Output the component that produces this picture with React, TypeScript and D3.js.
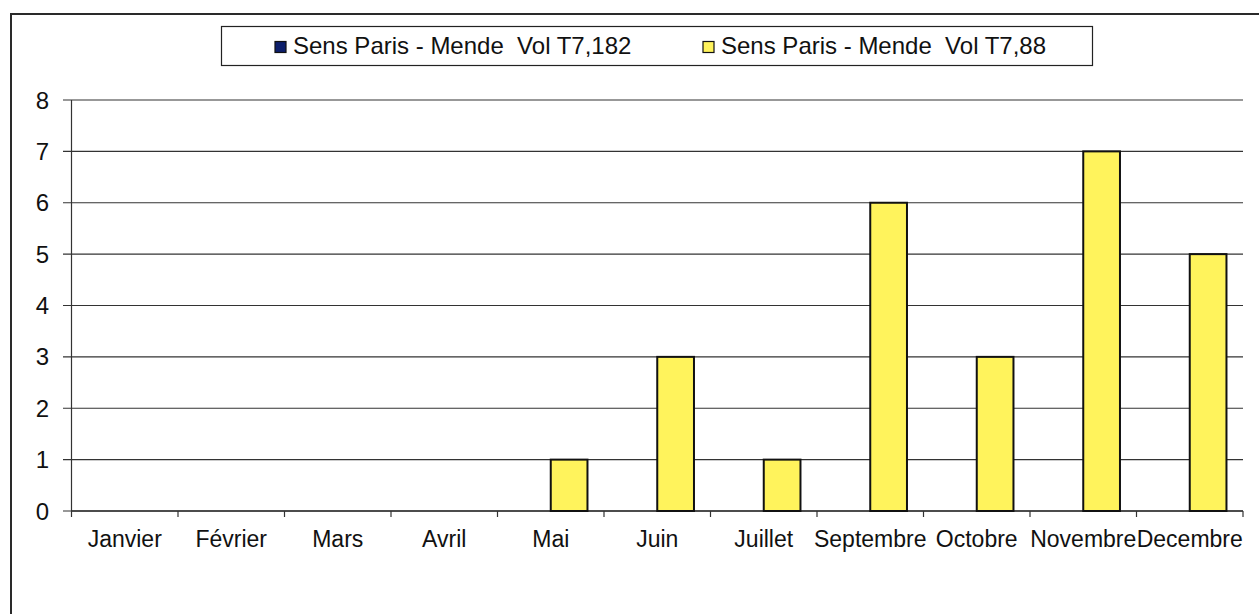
import React from 'react';
import * as d3 from 'd3';

// mois affichés (pas d'août dans la source)
const months = ['Janvier', 'Février', 'Mars', 'Avril', 'Mai', 'Juin', 'Juillet', 'Septembre', 'Octobre', 'Novembre', 'Decembre'];
const seriesNames = ['Sens Paris - Mende  Vol T7,182', 'Sens Paris - Mende  Vol T7,88'];
const vol182 = [0, 0, 0, 0, 0, 0, 0, 0, 0, 0, 0];
const vol88 = [0, 0, 0, 0, 1, 3, 1, 6, 3, 7, 5];
const yTicks = [0, 1, 2, 3, 4, 5, 6, 7, 8];
const colors = ['#0d1f6b', '#fff35c'];

const W = 1259;
const H = 614;
const font = 'Arial, "Liberation Sans", sans-serif';

export default function App() {
  const left = 71.5, right = 1243, top = 100, bottom = 511;
  const x = d3.scaleBand<string>().domain(months).range([left, right]);
  // deux barres par mois, gap ~90%
  const sub = d3.scaleBand<number>().domain([0, 1]).range([0, x.bandwidth()]).paddingOuter(0.45).paddingInner(0);
  const y = d3.scaleLinear().domain([0, 8]).range([bottom, top]);
  const series = [vol182, vol88];
  const tickEdges = months.map(m => x(m)!).concat([right]);

  return (
    <svg width={W} height={H} style={{ position: 'absolute', left: 0, top: 0, background: '#fff' }}>
      {/* cadre */}
      <rect x={11} y={14} width={1270} height={620} fill="none" stroke="#2a2a2a" strokeWidth={2} />

      {/* légende */}
      <g>
        <rect x={221.5} y={26.5} width={871} height={39} fill="#fff" stroke="#222" strokeWidth={1.2} />
        {seriesNames.map((s, i) => {
          const lx = i === 0 ? 275 : 703;
          return (
            <g key={s}>
              <rect x={lx} y={41.5} width={11} height={11} fill={colors[i]} stroke="#111" strokeWidth={1.2} />
              <text x={lx + 18} y={54} fontFamily={font} fontSize={24} fill="#111" style={{ whiteSpace: 'pre' }}>{s}</text>
            </g>
          );
        })}
      </g>

      {/* grille */}
      {yTicks.map(t => (
        <g key={t}>
          <line x1={63} x2={right} y1={y(t)} y2={y(t)} stroke="#333" strokeWidth={1.2} />
          <text x={49} y={y(t) + 8.5} textAnchor="end" fontFamily={font} fontSize={24} fill="#111">{t}</text>
        </g>
      ))}

      {/* axes */}
      <line x1={left} x2={left} y1={top} y2={bottom} stroke="#333" strokeWidth={1.2} />
      <line x1={left} x2={right} y1={bottom} y2={bottom} stroke="#333" strokeWidth={1.5} />
      {tickEdges.map((e, i) => (
        <line key={i} x1={e} x2={e} y1={bottom} y2={bottom + 6} stroke="#333" strokeWidth={1.2} />
      ))}

      {/* barres */}
      {series.map((vals, si) =>
        vals.map((v, i) => v > 0 ? (
          <rect key={si + '-' + i}
            x={x(months[i])! + sub(si)!}
            y={y(v)}
            width={sub.bandwidth()}
            height={y(0) - y(v)}
            fill={colors[si]} stroke="#111" strokeWidth={2} />
        ) : null)
      )}

      {/* libellés mois */}
      {months.map(m => (
        <text key={m} x={x(m)! + x.bandwidth() / 2} y={547} textAnchor="middle" fontFamily={font} fontSize={23} fill="#111">{m}</text>
      ))}
    </svg>
  );
}
